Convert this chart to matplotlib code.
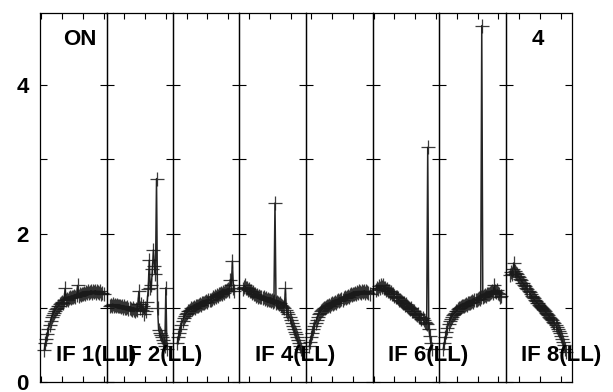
import numpy as np
import matplotlib
matplotlib.use("Agg")
import matplotlib.pyplot as plt

# ---- data ----
if_labels = ["IF 1(LL)", "IF 2(LL)", "", "IF 4(LL)", "", "IF 6(LL)", "", "IF 8(LL)"]
first_chan = [3, 2, 3, 2, 2, 2, 3, 3]

if1 = [0.43, 0.52, 0.58, 0.65, 0.71, 0.77, 0.82, 0.87, 0.90, 0.93, 0.96, 0.98, 1.00, 1.02,
       1.03, 1.05, 1.06, 1.08, 1.07, 1.10, 1.26, 1.10, 1.12, 1.11, 1.13, 1.14, 1.13, 1.15,
       1.14, 1.16, 1.15, 1.17, 1.30, 1.16, 1.18, 1.17, 1.19, 1.18, 1.20, 1.19, 1.21, 1.20,
       1.22, 1.20, 1.21, 1.23, 1.20, 1.22, 1.21, 1.23, 1.20, 1.22, 1.21, 1.20, 1.22, 1.19,
       1.20, 1.18]
if2 = [1.02, 1.04, 1.03, 1.05, 1.03, 1.04, 1.02, 1.04, 1.03, 1.02, 1.03, 1.01, 1.02, 1.00,
       1.02, 1.00, 0.99, 1.01, 0.98, 1.00, 0.98, 0.97, 0.99, 0.97, 0.96, 0.98, 0.97, 1.05,
       1.22, 1.00, 1.05, 0.97, 1.02, 0.92, 1.00, 0.95, 1.08, 1.25, 1.64, 1.26, 1.30, 1.52,
       1.78, 1.56, 1.45, 2.74, 1.00, 0.70, 0.66, 0.63, 0.60, 0.56, 0.52, 0.49, 1.27, 0.44]
if3 = [0.52, 0.60, 0.66, 0.72, 0.77, 0.82, 0.86, 0.89, 0.91, 0.93, 0.95, 0.96, 0.97, 0.99,
       0.98, 1.00, 1.01, 1.00, 1.02, 1.03, 1.02, 1.04, 1.05, 1.04, 1.06, 1.07, 1.06, 1.08,
       1.09, 1.08, 1.10, 1.11, 1.10, 1.12, 1.14, 1.13, 1.16, 1.15, 1.17, 1.16, 1.19, 1.18,
       1.20, 1.19, 1.21, 1.20, 1.23, 1.22, 1.24, 1.25, 1.23, 1.38, 1.30, 1.63, 1.26, 1.22]
if4 = [1.25, 1.28, 1.30, 1.26, 1.27, 1.24, 1.25, 1.22, 1.23, 1.20, 1.21, 1.18, 1.19, 1.16,
       1.17, 1.15, 1.16, 1.14, 1.15, 1.13, 1.14, 1.12, 1.13, 1.11, 1.12, 1.10, 1.11, 1.09,
       1.10, 1.08, 1.09, 2.41, 1.07, 1.08, 1.06, 1.05, 1.06, 1.04, 1.03, 1.01, 1.00, 1.26,
       0.97, 0.94, 0.91, 0.88, 0.84, 0.80, 0.76, 0.72, 0.68, 0.64, 0.60, 0.56, 0.52, 0.48,
       0.44, 0.40]
if5 = [0.48, 0.54, 0.60, 0.66, 0.71, 0.75, 0.80, 0.84, 0.88, 0.91, 0.93, 0.95, 0.97, 0.98,
       1.00, 0.99, 1.01, 1.02, 1.03, 1.04, 1.03, 1.05, 1.06, 1.05, 1.07, 1.08, 1.07, 1.09,
       1.10, 1.09, 1.11, 1.12, 1.11, 1.13, 1.14, 1.13, 1.15, 1.16, 1.15, 1.17, 1.18, 1.17,
       1.19, 1.18, 1.20, 1.19, 1.21, 1.20, 1.22, 1.21, 1.20, 1.22, 1.21, 1.23, 1.20, 1.22,
       1.21, 1.20, 1.19]
if6 = [1.24, 1.27, 1.25, 1.29, 1.27, 1.30, 1.28, 1.30, 1.27, 1.26, 1.24, 1.25, 1.22, 1.23,
       1.20, 1.21, 1.18, 1.19, 1.16, 1.15, 1.14, 1.13, 1.11, 1.10, 1.09, 1.08, 1.07, 1.06,
       1.04, 1.05, 1.02, 1.01, 1.00, 0.98, 0.99, 0.96, 0.95, 0.96, 0.93, 0.92, 0.90, 0.91,
       0.88, 0.87, 0.85, 0.86, 0.83, 0.81, 0.80, 0.78, 3.16, 0.72, 0.62, 0.52, 0.44]
if7 = [0.45, 0.52, 0.60, 0.67, 0.73, 0.78, 0.82, 0.85, 0.88, 0.90, 0.92, 0.93, 0.95, 0.96,
       0.98, 0.99, 1.00, 1.01, 1.02, 1.03, 1.02, 1.04, 1.05, 1.04, 1.06, 1.07, 1.06, 1.08,
       1.09, 1.08, 1.10, 1.11, 1.10, 1.12, 1.13, 1.12, 1.14, 4.80, 1.15, 1.16, 1.17, 1.16,
       1.18, 1.19, 1.18, 1.20, 1.21, 1.22, 1.20, 1.30, 1.23, 1.21, 1.24, 1.20, 1.18, 1.15,
       1.16]
if8 = [1.44, 1.48, 1.46, 1.52, 1.60, 1.50, 1.47, 1.45, 1.43, 1.41, 1.39, 1.37, 1.34, 1.33,
       1.30, 1.29, 1.26, 1.25, 1.22, 1.21, 1.18, 1.16, 1.14, 1.13, 1.10, 1.09, 1.07, 1.06,
       1.04, 1.03, 1.01, 1.00, 0.98, 0.97, 0.95, 0.93, 0.92, 0.90, 0.88, 0.86, 0.85, 0.83,
       0.81, 0.79, 0.77, 0.74, 0.72, 0.69, 0.66, 0.62, 0.58, 0.54, 0.50, 0.45, 0.41]
series = [if1, if2, if3, if4, if5, if6, if7, if8]

n_chan = 64
y_ticks = [0, 1, 2, 3, 4]
y_labels = ["0", "", "2", "", "4"]

# ---- figure ----
plt.rcParams['font.family'] = ['Liberation Sans', 'DejaVu Sans']
fig = plt.figure(figsize=(6.13, 3.92), dpi=100)
W, H = 613, 392
left, right = 40 / W, 572 / W
bottom, top = 1 - 382 / H, 1 - 13 / H
axes = fig.subplots(1, 8, sharey=True,
                    gridspec_kw=dict(wspace=0, left=left, right=right, bottom=bottom, top=top))

x0 = -1.15
panel_w = (right - left) / 8
for i, (ax, vals) in enumerate(zip(axes, series)):
    ax.set_facecolor('none')
    x = n_chan * i + first_chan[i] + np.arange(len(vals))
    ax.plot(x, vals, color='black', lw=1.1, marker='+', ms=9.5, mew=0.9,
            mec='#1a1a1a', alpha=0.85, clip_on=False)
    lo, hi = n_chan * i + x0, n_chan * (i + 1) + x0
    ax.set_xlim(lo, hi)
    xt = [t for t in range(0, 520, 20) if lo < t < hi]
    ax.set_xticks(xt)
    ax.set_xticklabels([])
    ax.set_ylim(0, 4.97)
    ax.set_yticks(y_ticks)
    ax.tick_params(axis='x', direction='in', top=True, bottom=True, length=4, width=0.8)
    ax.tick_params(axis='y', direction='in', left=True, right=True, length=5, width=0.8)
    for s in ax.spines.values():
        s.set_linewidth(0.9)
        s.set_color('black')
    if i > 0:
        ax.tick_params(axis='y', labelleft=False)

for i, lab in enumerate(if_labels):
    if lab:
        fig.text(left + i * panel_w + 15.5 / W, 1 - 361 / H, lab,
                 fontsize=16, fontweight='bold', ha='left', va='baseline', zorder=10)

axes[0].set_yticklabels(y_labels, fontsize=16, fontweight='bold')
axes[0].tick_params(axis='y', pad=8)

fig.text(63 / W, 1 - 45 / H, "ON", fontsize=16, fontweight='bold', ha='left', va='baseline')
fig.text(532 / W, 1 - 45 / H, "4", fontsize=16, fontweight='bold', ha='left', va='baseline')

fig.savefig("out.png", dpi=100)
